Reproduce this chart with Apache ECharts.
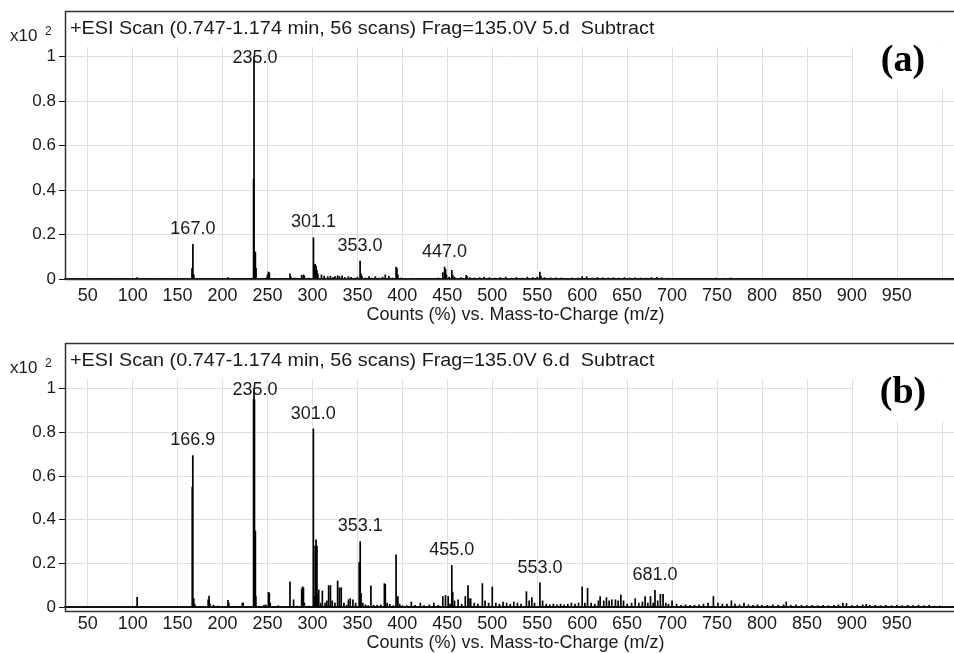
<!DOCTYPE html>
<html>
<head>
<meta charset="utf-8">
<script src="https://cdn.jsdelivr.net/npm/echarts@6/dist/echarts.min.js"></script>
<style>
  html, body { margin: 0; padding: 0; background: #fff; }
  #chart { width: 954px; height: 653px; }
</style>
</head>
<body>
<div id="chart"></div>
<script>
// x ticks / labels (m/z) and y ticks (x10^2 counts)
const xTicks = [50, 100, 150, 200, 250, 300, 350, 400, 450, 500, 550, 600, 650, 700, 750, 800, 850, 900, 950, 1000];
const xLabels = [50, 100, 150, 200, 250, 300, 350, 400, 450, 500, 550, 600, 650, 700, 750, 800, 850, 900, 950];
const yTicks = [0, 0.2, 0.4, 0.6, 0.8, 1];

const headerA = '+ESI Scan (0.747-1.174 min, 56 scans) Frag=135.0V 5.d  Subtract';
const headerB = '+ESI Scan (0.747-1.174 min, 56 scans) Frag=135.0V 6.d  Subtract';
const axisTitle = 'Counts (%) vs. Mass-to-Charge (m/z)';

// panel (a) peaks: [m/z, relative counts]
const peaksA = [
  [60, 0.002], [72, 0.002], [88, 0.002], [105, 0.008], [121, 0.003], [138, 0.002], [152, 0.002], [160, 0.003],
  [166.0, 0.048], [167.0, 0.157], [168.0, 0.02], [183, 0.003], [190, 0.003], [197, 0.003], [206, 0.008], [214, 0.003],
  [223, 0.004], [230, 0.003],
  [234.5, 0.45], [235.0, 1.0], [236.5, 0.123], [237.2, 0.05], [244, 0.004], [249, 0.008], [250, 0.02], [251, 0.033],
  [252, 0.03], [258, 0.005], [265, 0.004], [270, 0.005],
  [275, 0.025], [276, 0.01], [280, 0.006], [285, 0.005], [288, 0.018], [290, 0.02], [291, 0.015], [296, 0.006],
  [301.1, 0.187], [302, 0.064], [303, 0.068], [304, 0.06], [305, 0.04], [306, 0.025], [310, 0.02], [313, 0.015],
  [317, 0.012], [320, 0.014], [323, 0.008], [325, 0.012], [328, 0.016], [330, 0.012], [333, 0.016], [336, 0.008],
  [340, 0.012], [343, 0.009], [347, 0.005], [350, 0.01],
  [353.0, 0.082], [354, 0.025], [355, 0.015], [359, 0.006], [363, 0.012], [366, 0.006], [370, 0.012], [374, 0.006],
  [378, 0.01], [381, 0.02], [385, 0.014], [389, 0.006],
  [393, 0.055], [394, 0.05], [395, 0.02], [398, 0.006], [404, 0.004], [410, 0.005], [416, 0.004], [422, 0.005],
  [428, 0.004], [434, 0.005], [440, 0.006],
  [445, 0.03], [447.0, 0.055], [448, 0.045], [449, 0.02], [452, 0.01], [455, 0.04], [456, 0.02], [458, 0.01],
  [465, 0.008], [471, 0.018], [472, 0.012], [475, 0.008],
  [480, 0.006], [486, 0.008], [491, 0.01], [497, 0.008], [503, 0.006], [509, 0.008], [515, 0.01], [521, 0.006],
  [527, 0.008], [533, 0.006], [539, 0.01], [545, 0.008], [550, 0.01], [553, 0.033], [554, 0.015], [558, 0.008],
  [565, 0.006], [571, 0.007], [577, 0.006], [583, 0.005], [589, 0.006], [595, 0.006],
  [600, 0.012], [605, 0.012], [611, 0.006], [617, 0.008], [623, 0.007], [629, 0.006], [635, 0.007], [641, 0.006],
  [647, 0.008], [653, 0.006], [659, 0.007], [665, 0.006], [671, 0.006], [677, 0.008], [683, 0.009], [689, 0.007],
  [695, 0.005], [701, 0.005], [709, 0.004], [717, 0.004], [725, 0.004], [733, 0.004], [741, 0.004], [749, 0.006],
  [757, 0.005], [765, 0.006], [773, 0.004], [781, 0.004], [789, 0.003], [797, 0.004], [805, 0.003], [813, 0.004],
  [821, 0.003], [829, 0.004], [837, 0.003], [845, 0.004], [853, 0.003], [861, 0.003], [869, 0.004], [877, 0.003],
  [885, 0.003], [893, 0.004], [901, 0.003], [909, 0.003], [917, 0.004], [925, 0.003], [933, 0.003], [941, 0.003],
  [949, 0.003], [957, 0.003], [965, 0.003], [973, 0.003], [981, 0.003], [989, 0.002], [997, 0.002]
];
const labelledA = [167.0, 235.0, 301.1, 353.0, 447.0];

// panel (b) peaks
const peaksB = [
  [60, 0.002], [80, 0.002], [105, 0.046], [120, 0.002], [140, 0.003], [155, 0.003], [162, 0.004],
  [166.3, 0.55], [166.9, 0.694], [168, 0.04], [169, 0.015], [176, 0.004], [184, 0.035], [185, 0.052], [186, 0.015],
  [190, 0.01], [195, 0.006], [200, 0.004], [206, 0.033], [207, 0.02], [212, 0.004], [218, 0.005], [222, 0.02],
  [223, 0.02], [228, 0.004],
  [234.5, 0.95], [235.0, 1.0], [235.5, 0.95], [236.5, 0.35], [237, 0.05], [241, 0.004], [246, 0.01], [248, 0.012],
  [251, 0.069], [252, 0.065], [253, 0.02], [258, 0.004], [262, 0.008], [268, 0.004],
  [275, 0.117], [279, 0.035], [283, 0.006], [288, 0.085], [289, 0.094], [290, 0.09], [291, 0.02], [296, 0.006],
  [301.0, 0.816], [302, 0.05], [303, 0.28], [304, 0.309], [305, 0.28], [306, 0.06], [307, 0.08], [309, 0.02],
  [311, 0.075], [314, 0.02], [316, 0.03], [318, 0.1], [320, 0.1], [322, 0.03], [325, 0.02],
  [328, 0.121], [330, 0.09], [332, 0.09], [335, 0.02], [338, 0.01], [340, 0.035], [342, 0.04], [345, 0.035], [348, 0.02],
  [352, 0.206], [353.1, 0.301], [354, 0.065], [356, 0.02], [359, 0.012], [362, 0.008], [365, 0.099], [368, 0.01],
  [372, 0.01], [376, 0.012], [380, 0.109], [381, 0.105], [383, 0.02], [386, 0.015], [390, 0.008],
  [393, 0.24], [395, 0.05], [397, 0.015], [400, 0.008], [405, 0.008], [410, 0.025], [414, 0.01], [420, 0.02],
  [424, 0.008], [430, 0.012], [435, 0.02], [440, 0.01],
  [445, 0.05], [448, 0.055], [451, 0.05], [453, 0.015], [455.0, 0.192], [456, 0.07], [458, 0.03], [462, 0.035],
  [466, 0.015], [470, 0.05], [473, 0.1], [474, 0.04], [476, 0.04], [480, 0.02], [484, 0.015],
  [489, 0.109], [492, 0.03], [496, 0.02], [500, 0.094], [504, 0.02], [508, 0.015], [512, 0.025], [516, 0.02],
  [520, 0.015], [524, 0.025], [528, 0.02], [532, 0.015], [538, 0.072], [541, 0.03], [544, 0.045], [547, 0.02],
  [553.0, 0.112], [556, 0.03], [560, 0.015], [564, 0.012], [568, 0.015], [572, 0.012], [576, 0.015], [580, 0.012],
  [584, 0.015], [588, 0.02], [592, 0.015], [596, 0.02],
  [600, 0.094], [603, 0.02], [606, 0.087], [610, 0.02], [614, 0.015], [618, 0.03], [620, 0.05], [624, 0.03],
  [627, 0.045], [630, 0.03], [633, 0.035], [637, 0.035], [640, 0.03], [643, 0.057], [646, 0.03], [650, 0.015],
  [655, 0.02], [659, 0.04], [663, 0.02], [667, 0.025], [670, 0.05], [673, 0.02], [676, 0.05], [679, 0.02],
  [681.0, 0.078], [684, 0.03], [687, 0.06], [690, 0.06], [693, 0.02], [696, 0.015], [700, 0.03], [705, 0.015],
  [710, 0.01], [715, 0.012], [720, 0.01], [725, 0.01], [730, 0.012], [735, 0.015], [740, 0.02], [746, 0.05],
  [751, 0.02], [756, 0.015], [761, 0.015], [766, 0.03], [770, 0.015], [775, 0.012], [780, 0.02], [785, 0.012],
  [790, 0.01], [795, 0.012], [800, 0.01], [806, 0.01], [812, 0.012], [818, 0.01], [824, 0.012], [827, 0.025],
  [832, 0.01], [838, 0.012], [844, 0.01], [850, 0.008], [856, 0.01], [862, 0.008], [868, 0.01], [874, 0.008],
  [880, 0.01], [885, 0.012], [890, 0.02], [894, 0.018], [900, 0.008], [906, 0.01], [912, 0.012], [916, 0.014],
  [920, 0.01], [926, 0.01], [932, 0.008], [938, 0.01], [944, 0.008], [950, 0.01], [956, 0.008], [962, 0.01],
  [968, 0.008], [974, 0.01], [980, 0.008], [986, 0.01], [992, 0.006], [998, 0.006]
];
const labelledB = [166.9, 235.0, 301.0, 353.1, 455.0, 553.0, 681.0];

const FONT = '"Liberation Sans", Arial, sans-serif';
const chart = echarts.init(document.getElementById('chart'));

function buildData(peaks, labelled) {
  return peaks.map(function (p) {
    const item = { value: [p[0], p[1]] };
    if (labelled.indexOf(p[0]) >= 0) {
      item.label = {
        show: true,
        formatter: p[0].toFixed(1),
        // base peak label sits on the frame top, centred on the peak tip
        offset: p[1] >= 1 ? [1, 17] : [0, 0]
      };
    }
    return item;
  });
}

function xAxisCfg(i) {
  return {
    type: 'value',
    gridIndex: i,
    min: 24.75,
    max: 1013.6,
    name: axisTitle,
    nameLocation: 'middle',
    nameGap: 24,
    nameTextStyle: { fontSize: 18, color: '#1a1a1a', fontFamily: FONT, padding: [0, 0, 0, 12] },
    axisLine: { onZero: false, lineStyle: { color: '#111', width: 2 } },
    axisTick: { show: false, customValues: xTicks },
    axisLabel: { customValues: xLabels, fontSize: 18, color: '#1a1a1a', fontFamily: FONT, margin: 8 },
    splitLine: { show: true, lineStyle: { color: '#dedede', width: 1 } }
  };
}

function yAxisCfg(i) {
  return {
    type: 'value',
    gridIndex: i,
    min: 0,
    max: 1.0427,
    axisLine: { show: true, lineStyle: { color: '#111', width: 1 } },
    axisTick: { show: true, inside: false, length: 6, customValues: yTicks, lineStyle: { color: '#111' } },
    axisLabel: {
      customValues: yTicks,
      fontSize: 17,
      color: '#1a1a1a',
      fontFamily: FONT,
      margin: 9,
      formatter: function (v) {
        return (v === 0 || v === 1) ? String(v) : v.toFixed(1);
      }
    },
    splitLine: { show: true, lineStyle: { color: '#dedede', width: 1 } }
  };
}

function seriesCfg(i, peaks, labelled) {
  return {
    type: 'bar',
    xAxisIndex: i,
    yAxisIndex: i,
    barWidth: 1.7,
    itemStyle: { color: '#000' },
    label: { show: false, position: 'top', distance: 6, fontSize: 18, color: '#1a1a1a', fontFamily: FONT },
    data: buildData(peaks, labelled)
  };
}

function panelGraphics(dy, header, tag) {
  return [
    {
      type: 'rect', z: 60,
      shape: { x: 65.5, y: 11.5 + dy, width: 900, height: 268 },
      style: { fill: 'none', stroke: '#333', lineWidth: 1.5 }
    },
    {
      type: 'rect', z: 50,
      shape: { x: 853, y: 47.5 + dy, width: 101, height: 42 },
      style: { fill: '#fff' }
    },
    {
      type: 'text', z: 61, x: 903, y: 61 + dy,
      style: { text: tag, fill: '#000', font: 'bold 38px "Liberation Serif", "Times New Roman", serif', textAlign: 'center', textVerticalAlign: 'middle' }
    },
    {
      type: 'text', z: 61, x: 70, y: 29 + dy, scaleX: 1.1,
      style: { text: header, fill: '#1a1a1a', font: '18px ' + FONT, textAlign: 'left', textVerticalAlign: 'middle' }
    },
    {
      type: 'text', z: 61, x: 10, y: 36 + dy,
      style: { text: 'x10', fill: '#1a1a1a', font: '17px ' + FONT, textAlign: 'left', textVerticalAlign: 'middle' }
    },
    {
      type: 'text', z: 61, x: 45, y: 32 + dy,
      style: { text: '2', fill: '#1a1a1a', font: '12px ' + FONT, textAlign: 'left', textVerticalAlign: 'middle' }
    }
  ];
}

const option = {
  animation: false,
  backgroundColor: '#fff',
  grid: [
    { left: 65, top: 47, width: 889, height: 232 },
    { left: 65, top: 379, width: 889, height: 232 }
  ],
  xAxis: [xAxisCfg(0), xAxisCfg(1)],
  yAxis: [yAxisCfg(0), yAxisCfg(1)],
  series: [seriesCfg(0, peaksA, labelledA), seriesCfg(1, peaksB, labelledB)],
  graphic: panelGraphics(0, headerA, '(a)').concat(panelGraphics(332, headerB, '(b)'))
};

chart.setOption(option);
</script>
</body>
</html>
